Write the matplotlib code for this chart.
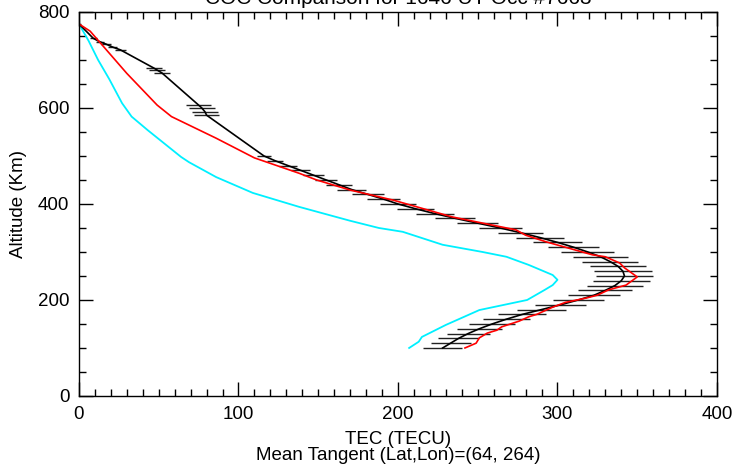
import matplotlib.pyplot as plt
from matplotlib.ticker import MultipleLocator

plt.rcParams["font.family"] = ["Liberation Sans", "DejaVu Sans"]

# measured TEC profile (black) with its uncertainty
obs_alt = [775, 745, 738, 733, 727, 721, 683, 679, 673, 606, 600, 592, 585,
           500, 490, 480, 470, 460, 450, 440, 430, 420, 410, 400, 390, 380,
           370, 360, 350, 340, 330, 320, 310, 300, 290, 280, 270, 260, 250,
           240, 230, 220, 210, 200, 190, 180, 170, 160, 150, 140, 130, 120,
           110, 100]
obs_tec = [0, 9, 13, 17, 21, 26, 47, 49, 52, 75, 77, 79, 80,
           116, 123, 131, 139, 147, 155, 163, 171, 181, 191, 200, 211, 223,
           236, 250, 264, 277, 289, 300, 310, 319, 327, 333, 338, 341, 342,
           340, 336, 330, 323, 313, 302, 290, 278, 268, 259, 251, 244, 238,
           233, 228]
obs_err = [1, 2, 2.5, 3, 3, 3.5, 5, 5, 5, 8, 8, 8, 8,
           4.5, 5, 5.5, 6, 6.5, 7, 8, 9, 10, 10.5, 11, 11.5, 12,
           12.5, 13, 13.5, 14, 15, 15.5, 16, 16.5, 17, 17.5, 17.5, 18, 18,
           18, 17.5, 17, 16.5, 16, 16, 15.5, 15, 15, 14.5, 14, 13.5, 13,
           12.5, 12]

# red model profile
red_alt = [775, 760, 672, 606, 582, 537, 496, 464, 450, 429, 408, 373, 346,
           335, 321, 294, 290, 277, 267, 248, 231, 221, 210, 204, 195, 185,
           170, 165, 156, 144, 137, 131, 121, 110, 100]
red_tec = [0, 7, 30, 49, 58, 86, 110, 138, 149, 170, 197, 234, 274,
           280, 293, 322, 330, 339, 342, 350, 343, 332, 325, 318, 305, 297,
           287, 282, 276, 265, 262, 256, 251, 249, 242]

# cyan model profile
cyan_alt = [775, 740, 700, 660, 610, 582, 554, 498, 487, 456, 423, 394, 365,
            350, 342, 315, 300, 290, 273, 252, 242, 231, 221, 200, 179, 148,
            123, 113, 100]
cyan_tec = [0, 6, 12, 19, 27, 33, 43, 64, 69, 86, 109, 138, 170,
            188, 203, 228, 253, 268, 282, 297, 300, 297, 292, 281, 251, 230,
            215, 213, 207]

fig = plt.figure(figsize=(7.34, 4.69), dpi=100)
ax = fig.add_axes([0.1076, 0.1557, 0.8692, 0.8188])

ax.errorbar(obs_tec, obs_alt, xerr=obs_err, fmt="none", ecolor="#222222",
            elinewidth=1.0)
ax.plot(cyan_tec, cyan_alt, color="#00F0FF", lw=1.3)
ax.plot(obs_tec, obs_alt, color="black", lw=1.2)
ax.plot(red_tec, red_alt, color="#FF0000", lw=1.2)

ax.set_xlim(0, 400)
ax.set_ylim(0, 800)
ax.xaxis.set_major_locator(MultipleLocator(100))
ax.xaxis.set_minor_locator(MultipleLocator(10))
ax.yaxis.set_major_locator(MultipleLocator(200))
ax.yaxis.set_minor_locator(MultipleLocator(50))
ax.tick_params(which="both", direction="in", top=True, right=True,
               labelsize=13.5, width=1)
ax.tick_params(which="major", length=10, pad=7)
ax.tick_params(which="minor", length=5)
for s in ax.spines.values():
    s.set_linewidth(1)

ax.set_xlabel("TEC (TECU)\nMean Tangent (Lat,Lon)=(64, 264)", fontsize=13.5,
              linespacing=0.95, labelpad=6)
ax.set_ylabel("Altitude (Km)", fontsize=13.5, labelpad=8)

# title sits mostly above the top edge, as in the original
fig.text(0.542, 1 - 4 / 469, "COC Comparison for 1646 UT Occ #7663",
         ha="center", va="baseline", fontsize=15)

fig.savefig("out.png", dpi=100)
